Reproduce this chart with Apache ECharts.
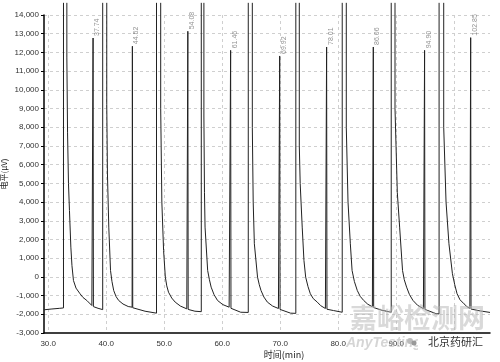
<!DOCTYPE html>
<html><head><meta charset="utf-8">
<script src="https://cdn.jsdelivr.net/npm/echarts@6/dist/echarts.min.js"></script>
<style>html,body{margin:0;padding:0;background:#fff}#c{width:500px;height:362px}</style>
</head><body><div id="c"></div>
<script>
// off-scale level for the large (truncated) peaks
const TOP = 14650;
const riseTimes = [32.64, 39.4, 48.68, 56.4, 64.5, 72.7, 80.7, 89.15, 97.4];
const fallTimes = [33.22, 40.1, 49.4, 56.85, 65.2, 73.3, 81.4, 89.8, 98.2];
const peakTimes = [37.74, 44.52, 54.08, 61.46, 69.92, 78.01, 86.06, 94.90, 102.85];
const peakHeights = [12770, 12330, 13130, 12110, 11810, 12290, 12290, 12110, 12790];
const peakLabels = ['37.74','44.52','54.08','61.46','69.92','78.01','86.06','94.90','102.85'];
const xTickLabels = ['30.0','40.0','50.0','60.0','70.0','80.0','90.0','100.0'];

const leadBaseline = [[29.28,-1760],[30.5,-1720],[32.0,-1680],[32.64,-1660]];
const decay1 = [[33.22,11750],[33.34,7700],[33.5,5000],[33.67,3550],[33.91,1590],[34.1,600],[34.36,-194],[34.8,-600],[35.5,-905],[36.0,-1100],[36.67,-1263],[37.53,-1530],[37.69,-1560],[37.8,-1590],[38.6,-1680],[39.4,-1750]];
const decay2 = [[40.1,9200],[40.22,5500],[40.45,2660],[40.75,340],[41.0,-250],[41.3,-730],[41.7,-1050],[42.15,-1260],[42.9,-1450],[43.8,-1585],[44.47,-1620],[44.58,-1650],[46.7,-1835],[48.68,-1940]];
const decay3 = [[49.4,9000],[49.6,4000],[49.9,1410],[50.2,-14],[50.45,-480],[50.75,-820],[51.3,-1130],[51.9,-1350],[52.8,-1560],[53.9,-1710],[54.03,-1720],[54.14,-1740],[55.3,-1835],[56.4,-1860]];
const decay4 = [[56.85,8600],[56.95,4500],[57.05,2660],[57.5,340],[57.8,-150],[58.1,-550],[58.6,-950],[59.2,-1260],[60.1,-1480],[61.2,-1620],[61.41,-1650],[61.52,-1680],[63.2,-1890],[64.5,-1900]];
const decay5 = [[65.2,8000],[65.35,4000],[65.55,1770],[66.1,-14],[66.4,-420],[66.7,-730],[67.2,-1080],[67.8,-1350],[68.7,-1560],[69.7,-1690],[69.87,-1710],[69.98,-1740],[71.8,-1940],[72.7,-1950]];
const decay6 = [[73.3,7000],[73.45,5000],[73.8,2660],[74.1,880],[74.4,-14],[74.8,-520],[75.2,-900],[75.7,-1160],[76.4,-1350],[77.0,-1540],[77.8,-1690],[77.96,-1700],[78.07,-1730],[79.2,-1800],[80.7,-1890]];
const decay7 = [[81.4,8000],[81.7,4000],[82.1,1770],[82.4,340],[82.8,-250],[83.3,-730],[83.8,-1040],[84.4,-1260],[85.1,-1460],[85.9,-1600],[86.01,-1610],[86.12,-1640],[87.5,-1780],[89.15,-1890]];
const decay8 = [[89.8,9000],[90.2,4500],[90.6,2660],[91.1,340],[91.4,-150],[91.8,-550],[92.3,-950],[92.9,-1260],[93.7,-1520],[94.7,-1700],[94.85,-1710],[94.96,-1740],[96.9,-1970],[97.4,-1980]];
const decay9 = [[98.2,8000],[98.6,4000],[99.1,1770],[99.7,170],[100.1,-420],[100.5,-900],[101.0,-1220],[101.7,-1440],[102.2,-1590],[102.7,-1690],[102.8,-1700],[102.91,-1720],[104.5,-1820],[106.18,-1900]];
const decays = [decay1, decay2, decay3, decay4, decay5, decay6, decay7, decay8, decay9];

// build trace
const trace = leadBaseline.slice();
for (let i = 0; i < riseTimes.length; i++) {
  trace.push([riseTimes[i], TOP]);
  trace.push([riseTimes[i], null]);
  trace.push([fallTimes[i], TOP]);
  const seg = decays[i].slice();
  const tp = peakTimes[i];
  let k = seg.findIndex(p => p[0] > tp);
  if (k < 0) k = seg.length;
  seg.splice(k, 0, [tp, peakHeights[i]]);
  seg.forEach(p => trace.push(p));
}
const labelPts = peakTimes.map((t, i) => ({ value: [t, peakHeights[i]], name: peakLabels[i] }));

const chart = echarts.init(document.getElementById('c'), null, { renderer: 'canvas' });
const FONT = 'Liberation Sans, Arial, sans-serif';
chart.setOption({
  animation: false,
  backgroundColor: '#fff',
  grid: { left: 44, right: 10, top: 15, bottom: 29, containLabel: false, outerBoundsMode: 'none' },
  xAxis: {
    type: 'value', min: 29.28, max: 106.18, splitNumber: 8, minInterval: 10, maxInterval: 10,
    name: '时间(min)', nameLocation: 'middle', nameGap: 17, nameMoveOverlap: false,
    nameTextStyle: { fontSize: 9, color: '#222', fontFamily: 'Noto Sans CJK SC, sans-serif', padding: [0, 0, 0, 34] },
    axisLine: { show: true, onZero: false, lineStyle: { color: '#000', width: 1.5 } },
    axisTick: { show: false },
    axisLabel: {
      fontSize: 8, color: '#333', fontFamily: FONT, margin: 7,
      formatter: v => { const r = Math.round(v / 10) * 10; if (Math.abs(v - r) > 0.01) return ''; const idx = xTickLabels.indexOf(r.toFixed(1)); return idx >= 0 ? xTickLabels[idx] : ''; }
    },
    splitLine: { show: true, showMinLine: false, showMaxLine: false, lineStyle: { color: '#cfcfcf', type: [3, 3], width: 1 } }
  },
  yAxis: {
    type: 'value', min: -3000, max: 14000, interval: 1000,
    name: '电平(μV)', nameLocation: 'middle', nameGap: 36, nameMoveOverlap: false,
    nameTextStyle: { fontSize: 8, color: '#222', fontFamily: 'Noto Sans CJK SC, sans-serif' },
    axisLine: { show: true, lineStyle: { color: '#000', width: 1.5 } },
    axisTick: { show: true, length: 3, lineStyle: { color: '#000' } },
    axisLabel: { fontSize: 8, color: '#333', fontFamily: FONT, margin: 5, formatter: v => v.toLocaleString('en-US') },
    splitLine: { show: true, showMinLine: false, lineStyle: { color: '#cfcfcf', type: [3, 3], width: 1 } }
  },
  series: [
    {
      type: 'line', data: trace, showSymbol: false, symbol: 'none', clip: false,
      connectNulls: false, lineStyle: { color: '#222', width: 1 }, z: 3
    },
    {
      type: 'scatter', data: labelPts, symbolSize: 0, silent: true, clip: false,
      label: {
        show: true, formatter: p => p.name, rotate: 90, position: 'top', distance: 2,
        align: 'left', verticalAlign: 'middle', offset: [0, 4],
        fontSize: 7, color: '#777', fontFamily: FONT
      }
    }
  ],
  graphic: [
    { type: 'text', left: 350, top: 304, z: 10, style: { text: '嘉峪检测网', font: 'bold 27px "Noto Sans CJK SC"', fill: 'rgba(185,185,185,0.55)' } },
    { type: 'text', left: 346, top: 336, z: 10, style: { text: 'AnyTesting.com', font: 'italic bold 14px "Liberation Sans"', fill: 'rgba(185,185,185,0.6)' } },
    { type: 'rect', shape: { x: 418, y: 337, width: 74, height: 13 }, z: 11, style: { fill: '#fff' } },
    { type: 'circle', shape: { cx: 410, cy: 341, r: 3 }, z: 12, style: { fill: '#bbb' } },
    { type: 'circle', shape: { cx: 414, cy: 343, r: 2.5 }, z: 12, style: { fill: '#999' } },
    { type: 'text', left: 428, top: 336, z: 12, style: { text: '北京药研汇', font: '11px "Noto Sans CJK SC"', fill: '#333' } }
  ]
});
</script></body></html>
